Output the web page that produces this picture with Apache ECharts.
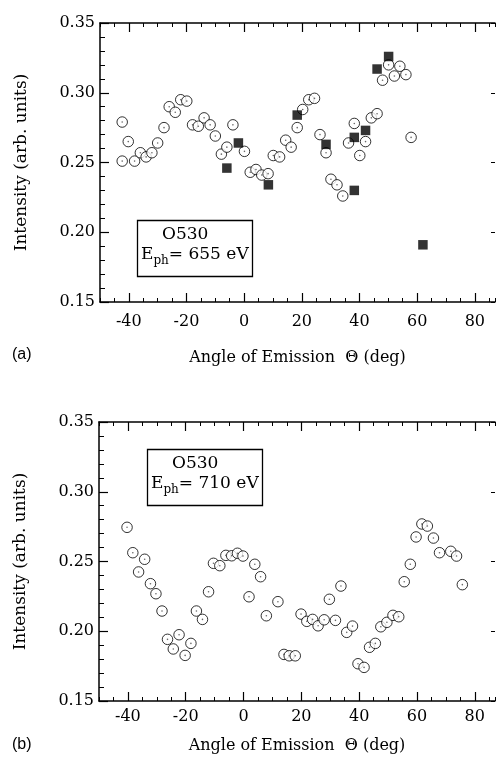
<!DOCTYPE html>
<html>
<head>
<meta charset="utf-8">
<script src="https://cdn.jsdelivr.net/npm/echarts@6/dist/echarts.min.js"></script>
<style>html,body{margin:0;padding:0;background:#fff}#c{width:498px;height:773px}</style>
</head>
<body>
<div id="c"></div>
<script>
// ---- data ----
const xTickLabels = [-40, -20, 0, 20, 40, 60, 80];
const yTickLabels = ['0.15', '0.20', '0.25', '0.30', '0.35'];

// panel (a): open circles
const aCircleX = [-42.3,-42.3,-40.2,-38.0,-36.0,-34.0,-32.0,-30.0,-27.8,-26.0,-23.9,-22.0,-19.9,-17.9,-15.9,-13.9,-11.8,-10.0,-7.9,-6.0,-3.9,0.1,2.1,4.1,6.1,8.3,10.1,12.3,14.4,16.3,18.4,20.3,22.4,24.4,26.3,28.4,30.1,32.2,34.2,36.2,38.2,40.1,42.1,44.1,46.1,48.0,50.1,52.1,54.0,56.1,57.9];
const aCircleY = [0.279,0.251,0.265,0.251,0.257,0.254,0.257,0.264,0.275,0.290,0.286,0.295,0.294,0.277,0.276,0.282,0.277,0.269,0.256,0.261,0.277,0.258,0.243,0.245,0.241,0.242,0.255,0.254,0.266,0.261,0.275,0.288,0.295,0.296,0.270,0.257,0.238,0.234,0.226,0.264,0.278,0.255,0.265,0.282,0.285,0.309,0.320,0.312,0.319,0.313,0.268];
// panel (a): filled squares
const aSquareX = [-6.0,-2.0,8.4,18.4,28.4,38.2,38.2,42.1,46.1,50.1,62.0];
const aSquareY = [0.246,0.264,0.234,0.284,0.263,0.230,0.268,0.273,0.317,0.326,0.191];
// panel (b): open circles
const bCircleX = [-40.3,-38.3,-36.3,-34.2,-32.2,-30.3,-28.2,-26.3,-24.3,-22.3,-20.2,-18.2,-16.3,-14.2,-12.1,-10.4,-8.2,-6.1,-4.1,-2.1,-0.2,1.9,3.9,5.9,7.9,11.9,14.0,15.8,17.9,19.9,21.9,23.9,25.8,27.9,29.7,31.8,33.7,35.7,37.7,39.6,41.7,43.6,45.6,47.5,49.6,51.7,53.7,55.6,57.7,59.7,61.7,63.6,65.7,67.8,71.7,73.7,75.7];
const bCircleY = [0.2745,0.2563,0.2425,0.2516,0.2341,0.2269,0.2145,0.1942,0.1873,0.1975,0.1827,0.1913,0.2145,0.2085,0.2283,0.2487,0.2470,0.2544,0.2541,0.2559,0.2539,0.2247,0.2480,0.2391,0.2111,0.2212,0.1834,0.1824,0.1824,0.2123,0.2071,0.2085,0.2039,0.2082,0.2229,0.2078,0.2324,0.1992,0.2037,0.1767,0.1741,0.1885,0.1913,0.2032,0.2064,0.2114,0.2104,0.2355,0.2480,0.2676,0.2769,0.2754,0.2668,0.2563,0.2573,0.2539,0.2334];

// ---- chart ----
const SERIF = 'DejaVu Serif';
const pair = (xs, ys) => xs.map((x, i) => [x, ys[i]]);
const X_MIN = -50, X_MAX = 87;

function xAxesFor(g, labelMargin, nameGap) {
  const base = {gridIndex: g, type: 'value', min: X_MIN, max: X_MAX, splitLine: {show: false}};
  return [
    Object.assign({}, base, {
      position: 'bottom', interval: 5,
      axisLine: {show: true, onZero: false, lineStyle: {color: '#000', width: 1.5}},
      axisTick: {show: true, inside: true, length: 4, lineStyle: {color: '#000', width: 1}},
      axisLabel: {show: true, margin: labelMargin, color: '#000', fontFamily: SERIF, fontSize: 16,
        formatter: v => (xTickLabels.indexOf(v) >= 0 ? String(v) : '')},
      name: 'Angle of Emission  \u0398 (deg)', nameLocation: 'middle', nameGap: nameGap,
      nameTextStyle: {color: '#000', fontFamily: SERIF, fontSize: 16}
    }),
    Object.assign({}, base, {
      position: 'bottom',
      axisLine: {show: false, onZero: false},
      axisTick: {show: true, inside: true, length: 9, customValues: xTickLabels, lineStyle: {color: '#000', width: 1.2}},
      axisLabel: {show: false}
    }),
    Object.assign({}, base, {
      position: 'top', interval: 5,
      axisLine: {show: true, onZero: false, lineStyle: {color: '#000', width: 1.5}},
      axisTick: {show: true, inside: true, length: 4, lineStyle: {color: '#000', width: 1}},
      axisLabel: {show: false}
    }),
    Object.assign({}, base, {
      position: 'top',
      axisLine: {show: false, onZero: false},
      axisTick: {show: true, inside: true, length: 9, customValues: xTickLabels, lineStyle: {color: '#000', width: 1.2}},
      axisLabel: {show: false}
    })
  ];
}
function yAxesFor(g) {
  const base = {gridIndex: g, type: 'value', min: 0.15, max: 0.35, interval: 0.05, splitLine: {show: false}};
  return [
    Object.assign({}, base, {
      position: 'left',
      axisLine: {show: true, onZero: false, lineStyle: {color: '#000', width: 1.5}},
      axisTick: {show: true, inside: true, length: 9, lineStyle: {color: '#000', width: 1.2}},
      minorTick: {show: true, splitNumber: 5, length: 5, lineStyle: {color: '#000', width: 1}},
      axisLabel: {show: true, margin: 5, color: '#000', fontFamily: SERIF, fontSize: 16,
        formatter: v => yTickLabels[Math.round((v - 0.15) / 0.05)]},
      name: 'Intensity (arb. units)', nameLocation: 'middle', nameGap: 70, nameRotate: 90,
      nameTextStyle: {color: '#000', fontFamily: SERIF, fontSize: 17}
    }),
    Object.assign({}, base, {
      position: 'right',
      axisLine: {show: false, onZero: false},
      axisTick: {show: true, inside: true, length: 4, lineStyle: {color: '#000', width: 1}},
      axisLabel: {show: false}
    })
  ];
}

function circleSeries(data, xi, yi) {
  return [
    {type: 'scatter', xAxisIndex: xi, yAxisIndex: yi, data: data, symbol: 'circle', symbolSize: 10.5,
     itemStyle: {color: '#fff', borderColor: '#000', borderWidth: 1}, silent: true, animation: false},
    {type: 'scatter', xAxisIndex: xi, yAxisIndex: yi, data: data, symbol: 'circle', symbolSize: 1.6,
     itemStyle: {color: '#444'}, silent: true, animation: false}
  ];
}

const option = {
  animation: false,
  backgroundColor: '#fff',
  grid: [
    {left: 100, right: 1, top: 23, height: 279},
    {left: 99, right: 1, top: 422, height: 279}
  ],
  xAxis: xAxesFor(0, 12, 48).concat(xAxesFor(1, 8, 37)),
  yAxis: yAxesFor(0).concat(yAxesFor(1)),
  series: [].concat(
    circleSeries(pair(aCircleX, aCircleY), 0, 0),
    [{type: 'scatter', xAxisIndex: 0, yAxisIndex: 0, data: pair(aSquareX, aSquareY), symbol: 'rect', symbolSize: 9.5,
      itemStyle: {color: '#000'}, silent: true, animation: false}],
    circleSeries(pair(bCircleX, bCircleY), 4, 2)
  ),
  graphic: [
    {type: 'text', left: 12, top: 347, style: {text: '(a)', font: '16px "Liberation Sans"', fill: '#000'}},
    {type: 'text', left: 12, top: 737, style: {text: '(b)', font: '16px "Liberation Sans"', fill: '#000'}},
    // label boxes
    {type: 'rect', shape: {x: 137.5, y: 220.5, width: 115, height: 56}, style: {fill: '#fff', stroke: '#000', lineWidth: 1.3}},
    {type: 'text', x: 162, y: 226, style: {text: 'O530', font: '17px "DejaVu Serif"', fill: '#000'}},
    {type: 'text', x: 141, y: 243, style: {
      text: '{m|E}{s|ph}{m|= 655 eV}', fill: '#000',
      rich: {m: {fontFamily: SERIF, fontSize: 17, lineHeight: 24, verticalAlign: 'middle'},
             s: {fontFamily: SERIF, fontSize: 12, lineHeight: 12, verticalAlign: 'bottom'}}}},
    {type: 'rect', shape: {x: 147.5, y: 449.5, width: 115, height: 56}, style: {fill: '#fff', stroke: '#000', lineWidth: 1.3}},
    {type: 'text', x: 172, y: 455, style: {text: 'O530', font: '17px "DejaVu Serif"', fill: '#000'}},
    {type: 'text', x: 151, y: 472, style: {
      text: '{m|E}{s|ph}{m|= 710 eV}', fill: '#000',
      rich: {m: {fontFamily: SERIF, fontSize: 17, lineHeight: 24, verticalAlign: 'middle'},
             s: {fontFamily: SERIF, fontSize: 12, lineHeight: 12, verticalAlign: 'bottom'}}}}
  ]
};
const chart = echarts.init(document.getElementById('c'), null, {renderer: 'canvas'});
chart.setOption(option);
</script>
</body>
</html>
